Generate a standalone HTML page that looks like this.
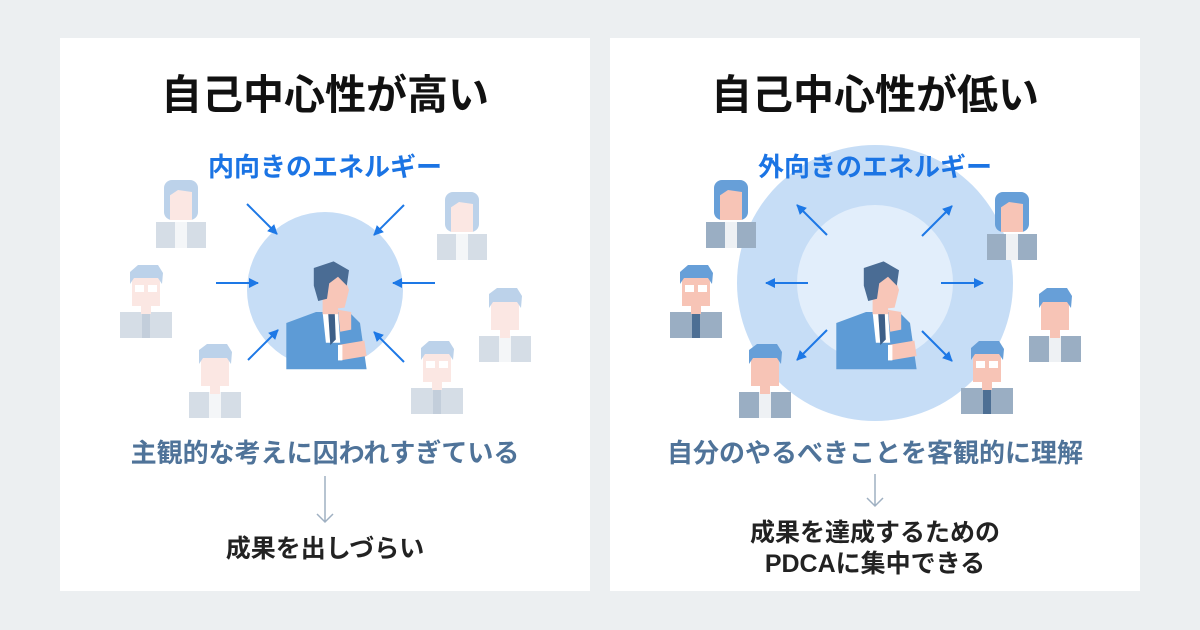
<!DOCTYPE html>
<html><head><meta charset="utf-8"><style>
html,body{margin:0;padding:0;background:#eceff1;}
svg{display:block}
text{font-family:"Liberation Sans","Noto Sans CJK JP",sans-serif;font-weight:700;text-anchor:middle}
.fa{--h:#bcd2ea;--s:#fbe7e3;--b:#d5dde6;--w:#f4f6f8;--t:#c3cedb}
.st{--h:#679fd8;--s:#f7c4b6;--b:#9aaec3;--w:#eef1f4;--t:#4d6f94}
</style></head><body>
<svg width="1200" height="630" viewBox="0 0 1200 630" xmlns="http://www.w3.org/2000/svg">
<defs>
<g id="man">
<rect style="fill:var(--b)" x="-26" y="44" width="52" height="26"/>
<rect style="fill:var(--w)" x="-6" y="44" width="12" height="26"/>
<rect style="fill:var(--s)" x="-5" y="34" width="10" height="12"/>
<rect style="fill:var(--s)" x="-14" y="6" width="28" height="32"/>
<path style="fill:var(--h)" d="M-16 2 L-8 -4 L12 -4 L17 4 L16 16 L12 10 L-12 10 L-16 16 Z"/>
</g>
<g id="glass">
<rect style="fill:var(--b)" x="-26" y="44" width="52" height="26"/>
<rect style="fill:var(--t)" x="-4" y="44" width="8" height="26"/>
<rect style="fill:var(--s)" x="-5" y="34" width="10" height="12"/>
<rect style="fill:var(--s)" x="-14" y="6" width="28" height="32"/>
<path style="fill:var(--h)" d="M-16 4 L-8 -3 L12 -3 L17 5 L16 16 L12 10 L-12 10 L-16 16 Z"/>
<rect fill="#fff" x="-11" y="17" width="9" height="7"/><rect fill="#fff" x="2" y="17" width="9" height="7"/>
</g>
<g id="woman">
<rect style="fill:var(--h)" x="-17" y="-2" width="34" height="40" rx="8"/>
<rect style="fill:var(--b)" x="-25" y="40" width="50" height="26"/>
<rect style="fill:var(--w)" x="-6" y="40" width="12" height="26"/>
<rect style="fill:var(--s)" x="-11" y="8" width="22" height="30"/>
<path style="fill:var(--h)" d="M-12 0 L12 0 L11 10 L-3 8 L-12 14Z"/>
</g>
<g id="boss">
<path d="M-37 40 L-10 30 L20 30 L30 40 L36 82 L-37 82 Z" fill="#5d9bd6"/>
<path d="M-4 30 L10 30 L12 58 L-1 58 Z" fill="#fff"/>
<path d="M1 30 L7 30 L8 55 L3 60 Z" fill="#3d5f88"/>
<rect x="-4" y="14" width="14" height="18" fill="#f8c6b8"/>
<path d="M-8 -6 L14 -8 L20 10 L16 26 L0 28 L-4 8 Z" fill="#f8c6b8"/>
<path d="M-12 -10 L6 -16 L20 -8 L18 6 L10 -2 L2 4 L0 18 L-8 20 L-12 6 Z" fill="#4a6c94"/>
<path d="M10 28 L22 30 L22 46 L12 48 Z" fill="#f8c6b8"/>
<path d="M10 60 L34 56 L36 70 L12 74Z" fill="#f8c6b8"/>
<rect x="10" y="60" width="4" height="14" fill="#fff"/>
</g>
<marker id="ah" viewBox="0 0 10 10" refX="9" refY="5" markerWidth="5" markerHeight="5" orient="auto"><path d="M0 0 L10 5 L0 10Z" fill="#1d78e6"/></marker>
</defs>
<rect x="60" y="38" width="530" height="553" fill="#fff"/>
<rect x="610" y="38" width="530" height="553" fill="#fff"/>

<text x="325" y="109" font-size="41" fill="#111">自己中心性が高い</text>
<text x="325" y="176" font-size="26" fill="#1b74e4">内向きのエネルギー</text>
<circle cx="325" cy="290" r="78" fill="#c6ddf6"/>
<g fill="none" stroke="#1d78e6" stroke-width="2" marker-end="url(#ah)">
<line x1="247" y1="204" x2="277" y2="234"/><line x1="404" y1="205" x2="374" y2="235"/>
<line x1="216" y1="283" x2="258" y2="283"/><line x1="435" y1="283" x2="393" y2="283"/>
<line x1="248" y1="360" x2="278" y2="330"/><line x1="404" y1="362" x2="374" y2="332"/>
</g>
<g class="fa">
<use href="#woman" x="181" y="182"/>
<use href="#glass" x="146" y="268"/>
<use href="#man" x="215" y="348"/>
<use href="#woman" x="462" y="194"/>
<use href="#man" x="505" y="292"/>
<use href="#glass" x="437" y="344"/>
</g>
<use href="#boss" transform="translate(327,279) scale(1.1)"/>
<text x="325" y="462" font-size="26" fill="#4f7399">主観的な考えに囚われすぎている</text>
<path d="M325 476 V522 M317 514 L325 522 L333 514" fill="none" stroke="#9fb0c2" stroke-width="1.5"/>
<text x="325" y="557" font-size="25" fill="#222">成果を出しづらい</text>

<text x="875" y="109" font-size="41" fill="#111">自己中心性が低い</text>
<circle cx="875" cy="283" r="138" fill="#c6ddf6"/>
<circle cx="875" cy="283" r="78" fill="#e2eefb"/>
<text x="875" y="176" font-size="26" fill="#1b74e4">外向きのエネルギー</text>
<g fill="none" stroke="#1d78e6" stroke-width="2" marker-end="url(#ah)">
<line x1="827" y1="235" x2="797" y2="205"/><line x1="922" y1="236" x2="952" y2="206"/>
<line x1="808" y1="283" x2="766" y2="283"/><line x1="941" y1="283" x2="983" y2="283"/>
<line x1="827" y1="330" x2="797" y2="360"/><line x1="922" y1="331" x2="952" y2="361"/>
</g>
<g class="st">
<use href="#woman" x="731" y="182"/>
<use href="#glass" x="696" y="268"/>
<use href="#man" x="765" y="348"/>
<use href="#woman" x="1012" y="194"/>
<use href="#man" x="1055" y="292"/>
<use href="#glass" x="987" y="344"/>
</g>
<use href="#boss" transform="translate(877,279) scale(1.1)"/>
<text x="875" y="462" font-size="26" fill="#4f7399">自分のやるべきことを客観的に理解</text>
<path d="M875 474 V506 M867 498 L875 506 L883 498" fill="none" stroke="#9fb0c2" stroke-width="1.5"/>
<text x="875" y="541" font-size="25" fill="#222">成果を達成するための</text>
<text x="875" y="572" font-size="25" fill="#222">PDCAに集中できる</text>
</svg>
</body></html>
